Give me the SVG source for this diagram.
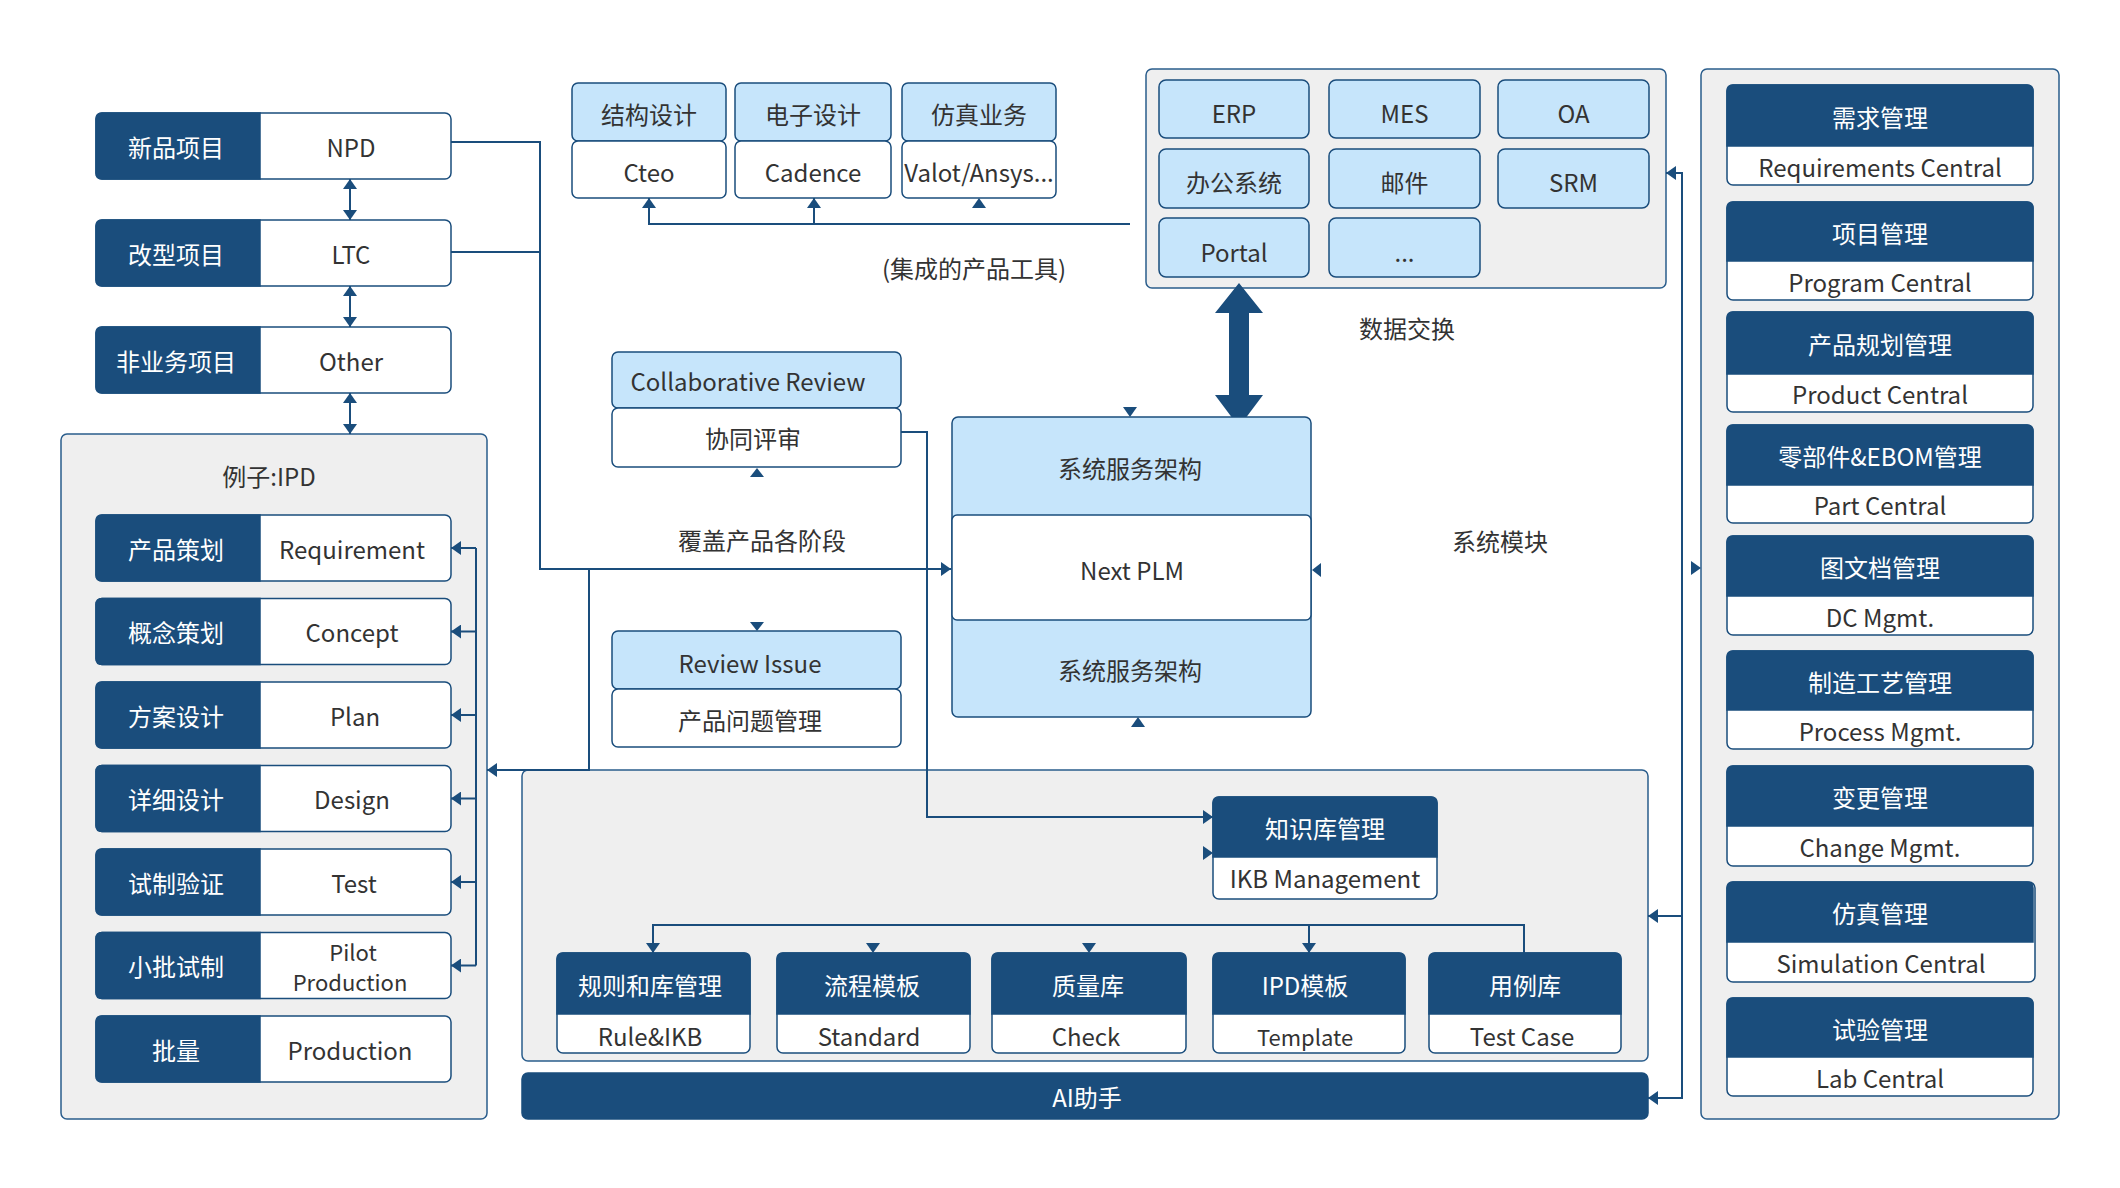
<svg xmlns="http://www.w3.org/2000/svg" width="2120" height="1188" viewBox="0 0 2120 1188">
<defs>
<style>
text{font-family:"Noto Sans CJK SC","Noto Sans",sans-serif;font-size:24px;fill:#333;text-anchor:middle;dominant-baseline:central}
text.w{fill:#fff}
.dk{fill:#1a4d7c;stroke:#1a4d7c;stroke-width:1.5}
.wb{fill:#fff;stroke:#1a4d7c;stroke-width:1.5}
.lb{fill:#c6e5fb;stroke:#1a4d7c;stroke-width:1.5}
.pn{fill:#efefef;stroke:#2a5d8c;stroke-width:1.5}
.ln{fill:none;stroke:#1a4d7c;stroke-width:2}
.tri{fill:#1a4d7c}
</style>
<marker id="ah" viewBox="0 0 10 14" refX="10" refY="7" markerWidth="10" markerHeight="14" markerUnits="userSpaceOnUse" orient="auto-start-reverse"><path d="M0,0L10,7L0,14z" fill="#1a4d7c"/></marker>
</defs>
<rect width="2120" height="1188" fill="#fff"/>

<!-- panels -->
<g id="ipd-panel"><rect class="pn" x="61" y="434" width="426" height="685" rx="6"/><text x="269" y="475">例子:IPD</text></g>
<g id="ext-panel"><rect class="pn" x="1146" y="69" width="520" height="219" rx="6"/></g>
<g id="kb-panel"><rect class="pn" x="522" y="770" width="1126" height="291" rx="6"/></g>
<g id="module-panel"><rect class="pn" x="1701" y="69" width="358" height="1050" rx="6"/></g>

<!-- connectors -->
<g id="connectors">
<path class="ln" d="M451,142 H540 V569 H951" marker-end="url(#ah)"/>
<path class="ln" d="M451,252 H540"/>
<path class="ln" d="M589,569 V770 H487" marker-end="url(#ah)"/>
<path class="ln" d="M350,179 V220" marker-start="url(#ah)" marker-end="url(#ah)"/>
<path class="ln" d="M350,286 V327" marker-start="url(#ah)" marker-end="url(#ah)"/>
<path class="ln" d="M350,393 V434" marker-start="url(#ah)" marker-end="url(#ah)"/>
<path class="ln" d="M476,548 V965.5"/>
<path class="ln" d="M476,548 H451" marker-end="url(#ah)"/>
<path class="ln" d="M476,631.5 H451" marker-end="url(#ah)"/>
<path class="ln" d="M476,715 H451" marker-end="url(#ah)"/>
<path class="ln" d="M476,798.5 H451" marker-end="url(#ah)"/>
<path class="ln" d="M476,882 H451" marker-end="url(#ah)"/>
<path class="ln" d="M476,965.5 H451" marker-end="url(#ah)"/>
<path class="ln" d="M1130,224 H649 V198" marker-end="url(#ah)"/>
<path class="ln" d="M814,224 V198" marker-end="url(#ah)"/>
<path class="tri" d="M972,208 L979,198 L986,208 Z"/>
<polygon class="tri" points="1239,283 1263,313 1249,313 1249,395 1263,395 1239,427 1215,395 1229,395 1229,313 1215,313"/>
<path class="tri" d="M1123,407 L1137,407 L1130,417 Z"/>
<path class="tri" d="M1131,727 L1145,727 L1138,717 Z"/>
<path class="tri" d="M1321,563 L1321,577 L1312,570 Z"/>
<path class="tri" d="M750,477 L764,477 L757,468 Z"/>
<path class="tri" d="M750,622 L764,622 L757,631 Z"/>
<path class="ln" d="M901,432 H927 V817 H1213" marker-end="url(#ah)"/>
<path class="tri" d="M1203,846 L1203,860 L1213,853 Z"/>
<path class="ln" d="M1524,953 V925 H653 V953" marker-end="url(#ah)"/>
<path class="ln" d="M1309,925 V953" marker-end="url(#ah)"/>
<path class="tri" d="M866,943 L880,943 L873,953 Z"/>
<path class="tri" d="M1082,943 L1096,943 L1089,953 Z"/>
<path class="ln" d="M1666,173 H1682 V1098 H1648" marker-start="url(#ah)" marker-end="url(#ah)"/>
<path class="ln" d="M1682,916 H1648" marker-end="url(#ah)"/>
<path class="tri" d="M1691,561 L1691,575 L1701,568 Z"/>
</g>

<!-- project types -->
<g id="npd"><rect class="wb" x="96" y="113" width="355" height="66" rx="6"/><path class="dk" d="M260,113 H102 Q96,113 96,119 V173 Q96,179 102,179 H260 Z"/><text class="w" x="176" y="146">新品项目</text><text x="351" y="146">NPD</text></g>
<g id="ltc"><rect class="wb" x="96" y="220" width="355" height="66" rx="6"/><path class="dk" d="M260,220 H102 Q96,220 96,226 V280 Q96,286 102,286 H260 Z"/><text class="w" x="176" y="253">改型项目</text><text x="351" y="253">LTC</text></g>
<g id="other"><rect class="wb" x="96" y="327" width="355" height="66" rx="6"/><path class="dk" d="M260,327 H102 Q96,327 96,333 V387 Q96,393 102,393 H260 Z"/><text class="w" x="176" y="360">非业务项目</text><text x="351" y="360">Other</text></g>

<!-- IPD stages -->
<g id="ipd-req"><rect class="wb" x="96" y="515" width="355" height="66" rx="6"/><path class="dk" d="M260,515 H102 Q96,515 96,521 V575 Q96,581 102,581 H260 Z"/><text class="w" x="176" y="548">产品策划</text><text x="352" y="548">Requirement</text></g>
<g id="ipd-concept"><rect class="wb" x="96" y="598.5" width="355" height="66" rx="6"/><path class="dk" d="M260,598.5 H102 Q96,598.5 96,604.5 V658.5 Q96,664.5 102,664.5 H260 Z"/><text class="w" x="176" y="631.5">概念策划</text><text x="352" y="631.5">Concept</text></g>
<g id="ipd-plan"><rect class="wb" x="96" y="682" width="355" height="66" rx="6"/><path class="dk" d="M260,682 H102 Q96,682 96,688 V742 Q96,748 102,748 H260 Z"/><text class="w" x="176" y="715">方案设计</text><text x="355" y="715">Plan</text></g>
<g id="ipd-design"><rect class="wb" x="96" y="765.5" width="355" height="66" rx="6"/><path class="dk" d="M260,765.5 H102 Q96,765.5 96,771.5 V825.5 Q96,831.5 102,831.5 H260 Z"/><text class="w" x="176" y="798.5">详细设计</text><text x="352" y="798.5">Design</text></g>
<g id="ipd-test"><rect class="wb" x="96" y="849" width="355" height="66" rx="6"/><path class="dk" d="M260,849 H102 Q96,849 96,855 V909 Q96,915 102,915 H260 Z"/><text class="w" x="176" y="882">试制验证</text><text x="354" y="882">Test</text></g>
<g id="ipd-pilot"><rect class="wb" x="96" y="932.5" width="355" height="66" rx="6"/><path class="dk" d="M260,932.5 H102 Q96,932.5 96,938.5 V992.5 Q96,998.5 102,998.5 H260 Z"/><text class="w" x="176" y="965.5">小批试制</text><text style="font-size:22px"><tspan x="353" y="951">Pilot</tspan><tspan x="350" y="981">Production</tspan></text></g>
<g id="ipd-prod"><rect class="wb" x="96" y="1016" width="355" height="66" rx="6"/><path class="dk" d="M260,1016 H102 Q96,1016 96,1022 V1076 Q96,1082 102,1082 H260 Z"/><text class="w" x="176" y="1049">批量</text><text x="350" y="1049">Production</text></g>

<!-- integrated tools -->
<g id="tool-struct"><rect class="lb" x="572" y="83" width="154" height="58" rx="6"/><rect class="wb" x="572" y="141" width="154" height="57" rx="6"/><text x="649" y="113">结构设计</text><text x="649" y="171">Cteo</text></g>
<g id="tool-elec"><rect class="lb" x="735" y="83" width="156" height="58" rx="6"/><rect class="wb" x="735" y="141" width="156" height="57" rx="6"/><text x="813" y="113">电子设计</text><text x="813" y="171">Cadence</text></g>
<g id="tool-sim"><rect class="lb" x="902" y="83" width="154" height="58" rx="6"/><rect class="wb" x="902" y="141" width="154" height="57" rx="6"/><text x="979" y="113">仿真业务</text><text x="979" y="171">Valot/Ansys...</text></g>
<text x="974" y="267">(集成的产品工具)</text>

<!-- external systems -->
<g id="erp"><rect class="lb" x="1159" y="80" width="150" height="58" rx="7"/><text x="1234" y="112">ERP</text></g>
<g id="mes"><rect class="lb" x="1329" y="80" width="151" height="58" rx="7"/><text x="1404.5" y="112">MES</text></g>
<g id="oa"><rect class="lb" x="1498" y="80" width="151" height="58" rx="7"/><text x="1573.5" y="112">OA</text></g>
<g id="office"><rect class="lb" x="1159" y="149" width="150" height="59" rx="7"/><text x="1234" y="181">办公系统</text></g>
<g id="mail"><rect class="lb" x="1329" y="149" width="151" height="59" rx="7"/><text x="1404.5" y="181">邮件</text></g>
<g id="srm"><rect class="lb" x="1498" y="149" width="151" height="59" rx="7"/><text x="1573.5" y="181">SRM</text></g>
<g id="portal"><rect class="lb" x="1159" y="218" width="150" height="59" rx="7"/><text x="1234" y="251">Portal</text></g>
<g id="more"><rect class="lb" x="1329" y="218" width="151" height="59" rx="7"/><text x="1404.5" y="251">...</text></g>
<text x="1407" y="327">数据交换</text>
<text x="1500" y="540">系统模块</text>
<text x="762" y="539">覆盖产品各阶段</text>

<!-- Next PLM -->
<g id="next-plm"><rect class="lb" x="952" y="417" width="359" height="300" rx="6"/><rect class="wb" x="952" y="515" width="359" height="105" rx="5"/><text x="1130" y="467">系统服务架构</text><text x="1132" y="569">Next PLM</text><text x="1130" y="669">系统服务架构</text></g>

<!-- review -->
<g id="collab"><rect class="lb" x="612" y="352" width="289" height="56" rx="6"/><rect class="wb" x="612" y="408" width="289" height="59" rx="6"/><text x="748" y="380">Collaborative Review</text><text x="753" y="437">协同评审</text></g>
<g id="issue"><rect class="lb" x="612" y="631" width="289" height="58" rx="6"/><rect class="wb" x="612" y="689" width="289" height="58" rx="6"/><text x="750" y="662">Review Issue</text><text x="750" y="719">产品问题管理</text></g>

<!-- knowledge base -->
<g id="ikb"><rect class="wb" x="1213" y="797" width="224" height="102" rx="6"/><path class="dk" d="M1213,857 V803 Q1213,797 1219,797 H1431 Q1437,797 1437,803 V857 Z"/><text class="w" x="1325" y="827">知识库管理</text><text x="1325" y="877">IKB Management</text></g>
<g id="rule"><rect class="wb" x="557" y="953" width="193" height="100" rx="6"/><path class="dk" d="M557,1014 V959 Q557,953 563,953 H744 Q750,953 750,959 V1014 Z"/><text class="w" x="650" y="984">规则和库管理</text><text x="650" y="1035">Rule&amp;IKB</text></g>
<g id="flow"><rect class="wb" x="777" y="953" width="193" height="100" rx="6"/><path class="dk" d="M777,1014 V959 Q777,953 783,953 H964 Q970,953 970,959 V1014 Z"/><text class="w" x="872" y="984">流程模板</text><text x="869" y="1035">Standard</text></g>
<g id="quality"><rect class="wb" x="992" y="953" width="194" height="100" rx="6"/><path class="dk" d="M992,1014 V959 Q992,953 998,953 H1180 Q1186,953 1186,959 V1014 Z"/><text class="w" x="1088" y="984">质量库</text><text x="1086" y="1035">Check</text></g>
<g id="ipd-tpl"><rect class="wb" x="1213" y="953" width="192" height="100" rx="6"/><path class="dk" d="M1213,1014 V959 Q1213,953 1219,953 H1399 Q1405,953 1405,959 V1014 Z"/><text class="w" x="1305" y="984">IPD模板</text><text x="1305" y="1036" style="font-size:22px">Template</text></g>
<g id="testcase"><rect class="wb" x="1429" y="953" width="192" height="100" rx="6"/><path class="dk" d="M1429,1014 V959 Q1429,953 1435,953 H1615 Q1621,953 1621,959 V1014 Z"/><text class="w" x="1525" y="984">用例库</text><text x="1522" y="1035">Test Case</text></g>

<g id="ai"><rect class="dk" x="522" y="1073" width="1126" height="46" rx="6"/><text class="w" x="1087" y="1096">AI助手</text></g>

<!-- modules -->
<g id="m-req"><rect class="wb" x="1727" y="85" width="306" height="100" rx="6"/><path class="dk" d="M1727,146 V91 Q1727,85 1733,85 H2027 Q2033,85 2033,91 V146 Z"/><text class="w" x="1880" y="116">需求管理</text><text x="1880" y="166">Requirements Central</text></g>
<g id="m-prog"><rect class="wb" x="1727" y="202" width="306" height="98" rx="6"/><path class="dk" d="M1727,261 V208 Q1727,202 1733,202 H2027 Q2033,202 2033,208 V261 Z"/><text class="w" x="1880" y="232">项目管理</text><text x="1880" y="281">Program Central</text></g>
<g id="m-prod"><rect class="wb" x="1727" y="312" width="306" height="100" rx="6"/><path class="dk" d="M1727,374 V318 Q1727,312 1733,312 H2027 Q2033,312 2033,318 V374 Z"/><text class="w" x="1880" y="343">产品规划管理</text><text x="1880" y="393">Product Central</text></g>
<g id="m-part"><rect class="wb" x="1727" y="425" width="306" height="98" rx="6"/><path class="dk" d="M1727,485 V431 Q1727,425 1733,425 H2027 Q2033,425 2033,431 V485 Z"/><text class="w" x="1880" y="455">零部件&amp;EBOM管理</text><text x="1880" y="504">Part Central</text></g>
<g id="m-dc"><rect class="wb" x="1727" y="536" width="306" height="99" rx="6"/><path class="dk" d="M1727,596 V542 Q1727,536 1733,536 H2027 Q2033,536 2033,542 V596 Z"/><text class="w" x="1880" y="566">图文档管理</text><text x="1880" y="616">DC Mgmt.</text></g>
<g id="m-proc"><rect class="wb" x="1727" y="651" width="306" height="98" rx="6"/><path class="dk" d="M1727,710 V657 Q1727,651 1733,651 H2027 Q2033,651 2033,657 V710 Z"/><text class="w" x="1880" y="681">制造工艺管理</text><text x="1880" y="730">Process Mgmt.</text></g>
<g id="m-chg"><rect class="wb" x="1727" y="766" width="306" height="100" rx="6"/><path class="dk" d="M1727,826 V772 Q1727,766 1733,766 H2027 Q2033,766 2033,772 V826 Z"/><text class="w" x="1880" y="796">变更管理</text><text x="1880" y="846">Change Mgmt.</text></g>
<g id="m-sim"><rect class="wb" x="1727" y="882" width="308" height="100" rx="6"/><path class="dk" d="M1727,942 V888 Q1727,882 1733,882 H2027 Q2033,882 2033,888 V942 Z"/><text class="w" x="1880" y="912">仿真管理</text><text x="1881" y="962">Simulation Central</text></g>
<g id="m-lab"><rect class="wb" x="1727" y="998" width="306" height="98" rx="6"/><path class="dk" d="M1727,1057 V1004 Q1727,998 1733,998 H2027 Q2033,998 2033,1004 V1057 Z"/><text class="w" x="1880" y="1028">试验管理</text><text x="1880" y="1077">Lab Central</text></g>
</svg>
